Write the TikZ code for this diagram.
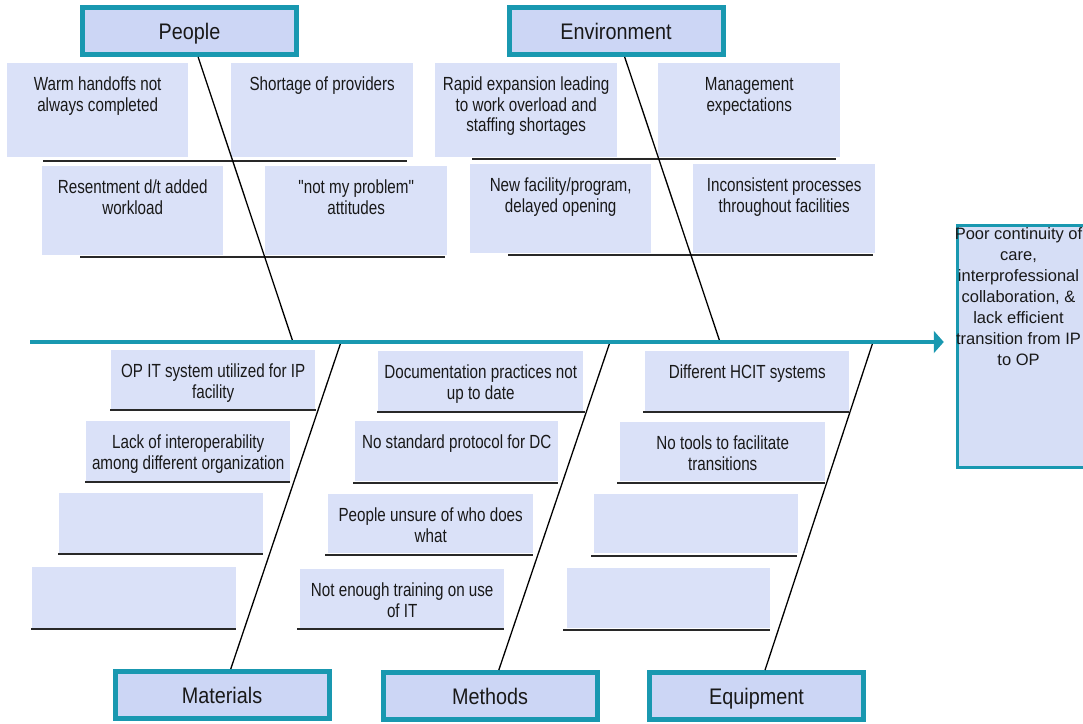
\documentclass[tikz,border=0pt]{standalone}
\usepackage{fontspec}
\setmainfont{Liberation Sans}
\newfontfamily\narrowfont{Liberation Sans}[FakeStretch=0.80]
\newfontfamily\catfont{Liberation Sans}[FakeStretch=0.88]
\usetikzlibrary{arrows.meta}
\definecolor{teal1}{RGB}{25,152,176}
\definecolor{catfill}{RGB}{204,214,245}
\definecolor{causefill}{RGB}{218,225,248}
\definecolor{efffill}{RGB}{214,222,246}
\definecolor{txt}{RGB}{25,25,25}
\definecolor{ulcol}{RGB}{40,40,40}
\tikzset{
  cat/.style={draw=teal1, line width=5pt, fill=catfill, minimum width=214pt,
    minimum height=47pt, inner sep=0pt, text=txt, text height=16pt, text depth=0pt,
    font=\catfont\fontsize{22.5}{26}\selectfont},
  causebg/.style={fill=causefill, inner sep=0pt, anchor=north west},
  causetext/.style={align=center, inner sep=0pt, anchor=north, text=txt,
    font=\narrowfont\fontsize{19}{20.5}\selectfont},
  uline/.style={draw=ulcol, line width=2pt},
  bone/.style={draw=black, line width=1.3pt},
  spine/.style={draw=teal1, line width=4pt, -{Triangle[length=10pt,width=22pt]}},
  effbox/.style={draw=teal1, line width=3.5pt, fill=efffill, inner sep=0pt, anchor=north west},
  efftext/.style={align=center, inner sep=0pt, anchor=north, text=txt,
    font=\fontsize{16.5}{21}\selectfont}
}
\newcommand\causebox[9]{%
  \node[causebg, minimum width={#4pt-#2pt}, minimum height={#5pt-#3pt}] (#1) at (#2,#3) {};
  \node[causetext] (#1t) at ([yshift=-13.5pt]#1.north) {\rule{0pt}{14pt}#9};
  \draw[uline] (#7,#6) -- (#8,#6);
}
\begin{document}
\begin{tikzpicture}[x=1pt,y=-1pt]
\useasboundingbox (0,0) rectangle (1083,723);
\clip (0,0) rectangle (1083,723);
\fill[white] (0,0) rectangle (1083,723);

% People causes
\causebox{warm}{7}{63}{188}{157}{161}{43}{407}{Warm handoffs not\\always completed}
\causebox{short}{231}{63}{413}{157}{161}{43}{407}{Shortage of providers}
\causebox{resent}{42}{166}{223}{255}{257}{80}{445}{Resentment d/t added\\workload}
\causebox{notmy}{265}{166}{447}{255}{257}{80}{445}{"not my problem"\\attitudes}
% Environment causes
\causebox{rapid}{435}{63}{617}{157}{159}{472}{836}{Rapid expansion leading\\to work overload and\\staffing shortages}
\causebox{mgmt}{658}{63}{840}{157}{159}{472}{836}{Management\\expectations}
\causebox{newfac}{470}{164}{651}{253}{255}{508}{873}{New facility/program,\\delayed opening}
\causebox{incons}{693}{164}{875}{253}{255}{508}{873}{Inconsistent processes\\throughout facilities}
% Materials causes
\causebox{opit}{111}{350}{315}{409}{410}{110}{316}{OP IT system utilized for IP\\facility}
\causebox{lack}{86}{421}{290}{481}{482}{85}{290}{Lack of interoperability\\among different organization}
\causebox{matc}{59}{493}{263}{553}{554}{58}{263}{}
\causebox{matd}{32}{567}{236}{628}{629}{31}{236}{}
% Methods causes
\causebox{doc}{378}{351}{583}{411}{412}{377}{585}{Documentation practices not\\up to date}
\causebox{nostd}{355}{421}{558}{481}{483}{353}{558}{No standard protocol for DC}
\causebox{unsure}{328}{494}{533}{553}{555}{325}{533}{People unsure of who does\\what}
\causebox{train}{300}{569}{504}{628}{629}{297}{504}{Not enough training on use\\of IT}
% Equipment causes
\causebox{hcit}{645}{351}{849}{411}{412}{643}{849}{Different HCIT systems}
\causebox{tools}{620}{422}{825}{481}{483}{617}{825}{No tools to facilitate\\transitions}
\causebox{eqc}{594}{494}{798}{553}{556}{591}{797}{}
\causebox{eqd}{567}{568}{770}{628}{630}{563}{770}{}

% Effect
\node[effbox, minimum width=170pt, minimum height=242pt] (effect) at (955.75,223.75) {};
\node[efftext] (efft) at (1018.5,225) {\rule{0pt}{14pt}Poor continuity of\\care,\\interprofessional\\collaboration, \&\\lack efficient\\transition from IP\\to OP};

% Categories
\node[cat] (people) at (189.5,31) {People};
\node[cat] (env) at (616,31) {Environment};
\node[cat] (mat) at (222,695) {Materials};
\node[cat] (meth) at (490,696) {Methods};
\node[cat] (equip) at (756.5,696) {Equipment};

% Spine coordinates
\coordinate (tail) at (30,342);
\coordinate (sPeople) at (293,342);
\coordinate (sEnv) at (720,342);
\coordinate (sMat) at (341,342);
\coordinate (sMeth) at (610,342);
\coordinate (sEquip) at (873,342);

% Bones
\draw[bone] (people) -- (sPeople);
\draw[bone] (env) -- (sEnv);
\draw[bone] (mat) -- (sMat);
\draw[bone] (meth) -- (sMeth);
\draw[bone] (equip) -- (sEquip);

% Spine
\draw[spine, shorten >=12pt] (tail) -- (tail -| effect.west);
\end{tikzpicture}
\end{document}
